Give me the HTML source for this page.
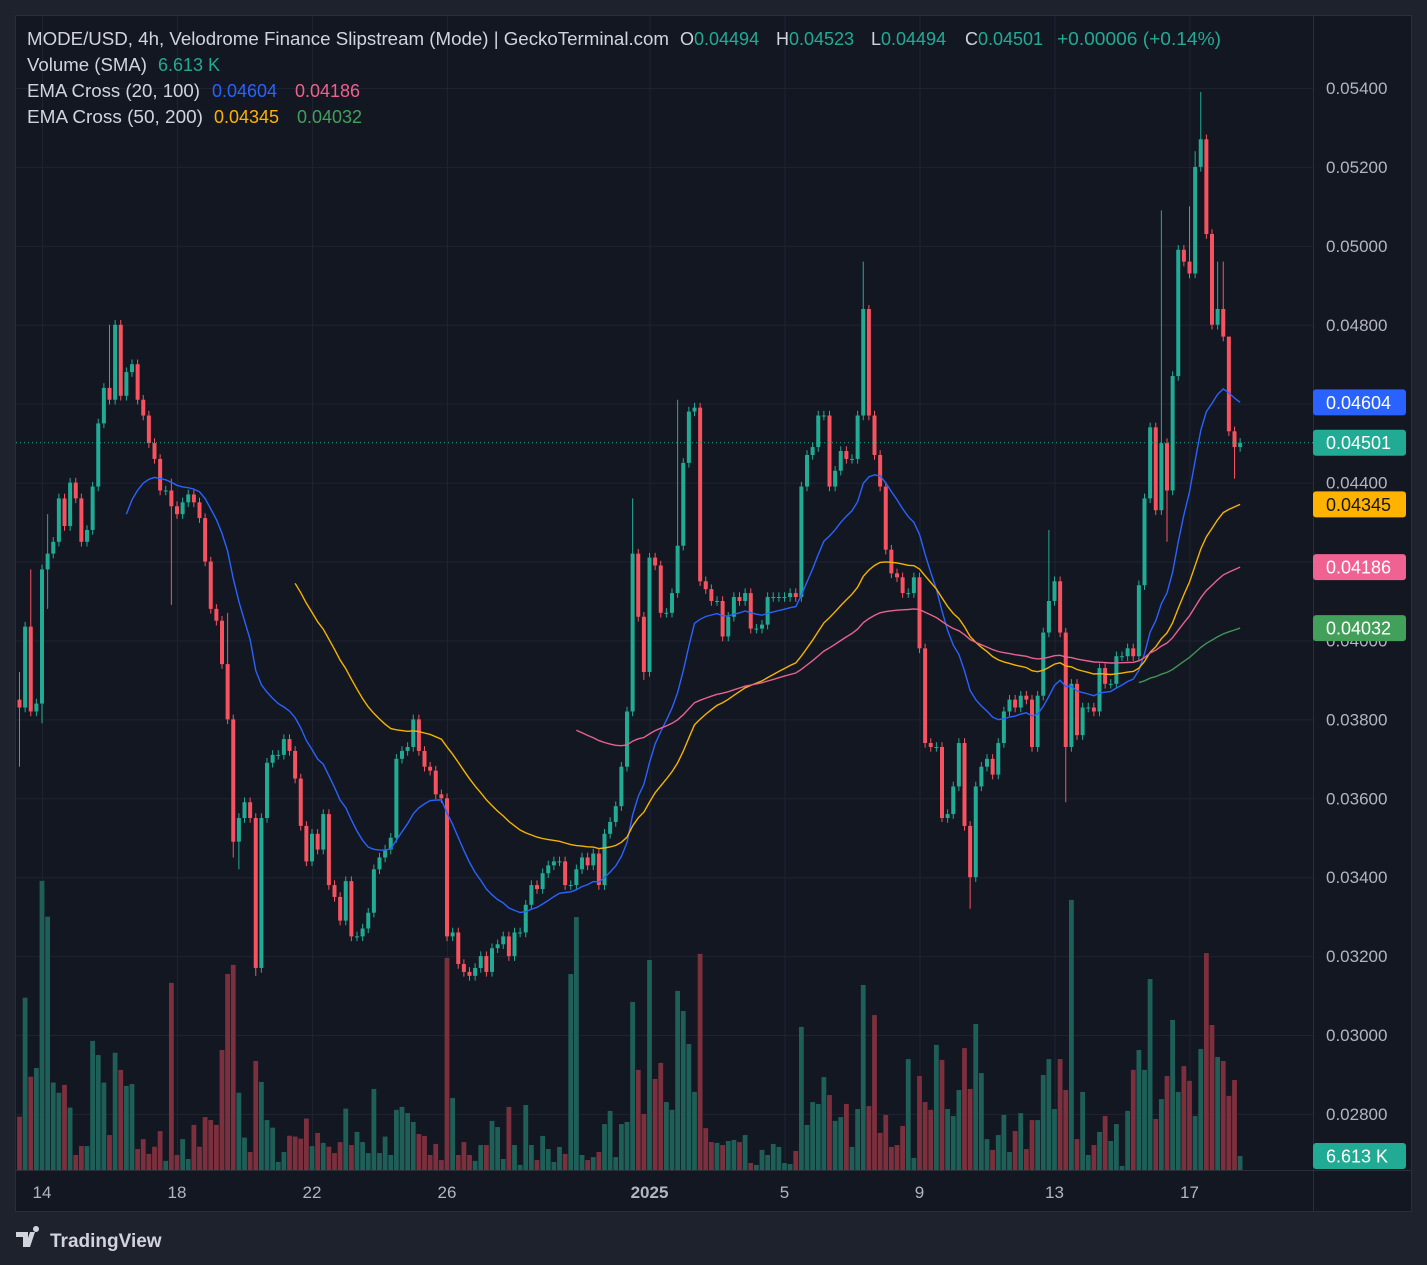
<!DOCTYPE html>
<html><head><meta charset="utf-8"><style>
html,body{margin:0;padding:0;background:#1e222d;}
svg{display:block;font-family:"Liberation Sans",sans-serif;}
</style></head><body>
<svg id="chart" width="1427" height="1265" viewBox="0 0 1427 1265" xmlns="http://www.w3.org/2000/svg">
<rect x="0" y="0" width="1427" height="1265" fill="#1e222d"/>
<rect x="15.5" y="15.5" width="1396" height="1196" fill="#131722" stroke="#2a2e39"/>
<defs><clipPath id="plotclip"><rect x="16" y="16" width="1297" height="1154"/></clipPath></defs>
<g id="grid"></g>
<g id="vol" clip-path="url(#plotclip)"></g>
<g id="candles" clip-path="url(#plotclip)"></g>
<g id="emas" clip-path="url(#plotclip)"></g>
<line x1="1313.5" y1="16" x2="1313.5" y2="1211" stroke="#2a2e39"/>
<line x1="16" y1="1170.5" x2="1411" y2="1170.5" stroke="#2a2e39"/>
<g id="yaxis"></g>
<g id="xaxis"></g>
<g id="labels"></g>
<g font-size="18">
<text x="27" y="45" fill="#d1d4dc" textLength="642" lengthAdjust="spacingAndGlyphs">MODE/USD, 4h, Velodrome Finance Slipstream (Mode) | GeckoTerminal.com</text>
<text x="680" y="45" fill="#d1d4dc">O<tspan fill="#22ab94">0.04494</tspan></text>
<text x="776" y="45" fill="#d1d4dc">H<tspan fill="#22ab94">0.04523</tspan></text>
<text x="871" y="45" fill="#d1d4dc">L<tspan fill="#22ab94">0.04494</tspan></text>
<text x="965" y="45" fill="#d1d4dc">C<tspan fill="#22ab94">0.04501</tspan></text>
<text x="1057" y="45" fill="#22ab94" textLength="164" lengthAdjust="spacingAndGlyphs">+0.00006 (+0.14%)</text>
<text x="27" y="71" fill="#d1d4dc" textLength="120" lengthAdjust="spacingAndGlyphs">Volume (SMA)</text>
<text x="158" y="71" fill="#22ab94">6.613 K</text>
<text x="27" y="97" fill="#d1d4dc" textLength="173" lengthAdjust="spacingAndGlyphs">EMA Cross (20, 100)</text>
<text x="212" y="97" fill="#2962ff">0.04604</text>
<text x="295" y="97" fill="#f0608c">0.04186</text>
<text x="27" y="123" fill="#d1d4dc" textLength="176" lengthAdjust="spacingAndGlyphs">EMA Cross (50, 200)</text>
<text x="214" y="123" fill="#ffb300">0.04345</text>
<text x="297" y="123" fill="#43a05a">0.04032</text>
</g>
<g>
<path d="M16 1232h12v15h-5v-10h-7z M30 1232h5l-5 15h-5z M36 1232a3 3 0 1 1 0.01 0z" fill="#d1d4dc"/>
<text x="50" y="1247" fill="#d1d4dc" font-size="19" font-weight="bold">TradingView</text>
</g>
</svg>
<script>
const closes=[0.0383,
0.04035,0.0382,0.0384,0.0418,0.0422,0.0425,0.0436,0.0429,0.0440,0.0436,0.0425,0.0428,0.0439,0.0455,0.0464,0.0461,0.0480,0.0462,0.0468,0.0470,0.0461,0.0457,0.0450,0.0446,0.0438,0.0438,0.0434,0.0432,0.0435,0.0437,0.0435,0.0431,0.0420,0.0408,0.0405,0.0394,
0.0380,0.0349,0.0355,0.0359,0.0355,0.0317,0.0355,0.0369,0.0371,0.0371,0.0375,0.0372,0.0365,0.0353,0.0344,0.0351,0.0347,0.0356,0.0338,0.0335,0.0329,0.0339,0.0325,0.0325,0.0327,0.0331,0.0342,0.0345,0.0347,0.0350,0.0370,0.0372,0.0373,0.0380,0.0372,0.0368,0.0367,
0.0361,0.0360,0.0325,0.0326,0.0318,0.0316,0.0315,0.0317,0.0320,0.0316,0.0322,0.0323,0.0325,0.0320,0.0326,0.0326,0.0333,0.0338,0.0337,0.0341,0.0343,0.0344,0.0344,0.0338,0.0338,0.0342,0.0345,0.0343,0.0346,0.0338,0.0351,0.0354,0.0358,0.0368,0.0382,0.0422,
0.0406,0.0392,0.0421,0.0419,0.0407,0.0407,0.0412,0.0424,0.0445,0.0458,0.0459,0.0415,0.0413,0.0410,0.0410,0.0401,0.0406,0.0411,0.0410,0.0412,0.0403,0.0403,0.0404,0.0411,0.0411,0.0411,0.0411,0.0412,0.0411,0.0439,0.0447,0.0449,0.0457,0.0457,0.0439,0.0443,0.0448,
0.0446,0.0446,0.0457,0.0484,0.0457,0.0447,0.0439,0.0423,0.0417,0.0416,0.0412,0.0412,0.0416,0.0398,0.0374,0.0373,0.0373,0.0355,0.0356,0.0363,0.0374,0.0353,0.0340,0.0363,0.0368,0.0370,0.0366,0.0374,0.0382,0.0385,0.0383,0.0386,0.0385,0.0373,0.0386,0.0402,
0.0410,0.0415,0.0402,0.0373,0.0389,0.0376,0.0383,0.0383,0.0382,0.0393,0.0389,0.0389,0.0396,0.0396,0.0398,0.0396,0.0414,0.0436,0.0454,0.0433,0.0450,0.0438,0.0467,0.0499,0.0496,0.0493,0.0520,0.0527,0.0503,0.0480,0.0484,0.0477,0.0453,0.0449,0.04501];
const firstOpen=0.0385;
const wickHigh={0:0.0392,2:0.0418,5:0.0432,16:0.0480,27:0.0441,37:0.0407,109:0.0436,117:0.0461,150:0.0496,151:0.0485,183:0.0428,203:0.0509,208:0.0510,209:0.0524,210:0.0539,213:0.0496,214:0.0496,215:0.0477};
const wickLow={0:0.0368,4:0.0379,5:0.0408,27:0.0409,38:0.0345,39:0.0342,42:0.0315,111:0.0390,164:0.0354,169:0.0332,186:0.0359,204:0.0425,216:0.0441};
const volumes=[25.2,81.4,44.1,48.2,136.6,119.7,41.3,36.5,40.2,29.5,7.1,11.3,11.3,61,54.3,41.3,16.5,55.4,47.3,39.7,40.6,9.9,14.6,7.6,11,18.4,4.3,88.4,7.1,14.6,5.2,21.3,11,25,23.6,21.3,56.7,92.6,96.9,36.5,15.3,8.5,51.5,41.6,23.6,20,3.8,8.5,16.2,15.8,14.8,24.3,11.3,17.5,12.8,11,8,13.2,29,11.8,18,13.2,8,38.3,8,15.8,7.1,28.4,29.8,26.9,22.7,17,16.1,7.1,
12.3,4.7,100.2,34,7.1,13.2,7.1,4.3,11.8,11.8,23.2,20.3,5.2,29.8,11.8,2.4,30.7,11.8,4.7,16.1,9.9,3.8,10.9,7.6,92.6,119.5,7.1,4.7,6.1,8.5,21.7,27.9,6.1,21.7,22.7,79.4,47.3,26.5,99.2,43,50.6,32.1,28.4,84.6,75.1,59.5,36.9,102.1,19.8,13.2,12.8,11.8,13.7,14.2,13.2,16.5,3.3,2.4,9.5,7.1,12.3,10.9,3.3,2.8,9,67.6,21.3,32.1,31.2,43.9,35.4,23.2,25,31.2,
10.9,28.8,87.4,30.2,73.2,17.5,26,10.9,11.8,20.8,52.4,5.7,44.4,32.1,28.4,59.1,52,28.8,25.5,37.8,57.6,38.3,69,45.8,14.6,9.5,16.5,26,8.5,18.4,26.9,9.9,23.6,23.6,44.9,52.4,28.8,52.4,37.8,127.6,14.6,36.9,7.1,11.8,18,25.5,13.7,21.7,1.9,27.9,47.3,56.7,47.3,90.2,24.1,33.5,44.4,70.9,36.9,49.1,42.1,25.5,57.2,102.5,68.5,53.4,51.5,35,42.5,6.6];
const priceTicks=[0.028,0.030,0.032,0.034,0.036,0.038,0.040,0.042,0.044,0.046,0.048,0.050,0.052,0.054];
const dateTickDays=[0,4,8,12,18,22,26,30,34];
const dateTickLabels=["14","18","22","26","2025","5","9","13","17"];
const emaPeriods=[20,50,100,200];
const emaColors=["#2962ff","#f5b300","#e8628f","#3f9556"];
const lastLabels=[["0.04604","#2962ff","#fff",0],["0.04345","#ffb300","#131722",1],["0.04186","#f06292","#fff",2],["0.04032","#43a05a","#fff",3]];

const NS="http://www.w3.org/2000/svg";
function el(tag,attrs,parent){const e=document.createElementNS(NS,tag);for(const k in attrs)e.setAttribute(k,attrs[k]);parent.appendChild(e);return e;}
function yP(p){return 88+(0.054-p)/0.002*78.92;}
function xT(d){return 42+d*33.75;}
function xI(i){return xT((i-4)/6);}
function yV(v){return 1170-v/0.4724;}

const grid=document.getElementById('grid');
priceTicks.forEach(p=>{const l=el('line',{x1:16,x2:1313,y1:yP(p)+0.5,y2:yP(p)+0.5,stroke:'#1f2330'},grid);

});
dateTickDays.forEach(d=>{const l=el('line',{x1:xT(d)+0.5,x2:xT(d)+0.5,y1:16,y2:1170,stroke:'#1f2330'},grid);

});

const vg=document.getElementById('vol'),cg=document.getElementById('candles');
let prev=firstOpen;
const up=[];
closes.forEach((c,i)=>{
 const o=prev;prev=c;const isUp=c>=o;up.push(isUp);
 const hi=wickHigh[i]!==undefined?wickHigh[i]:Math.max(o,c)+0.00012;
 const lo=wickLow[i]!==undefined?wickLow[i]:Math.min(o,c)-0.00012;
 const x=xI(i);const col=isUp?'#22ab94':'#f7525f';
 const w=el('line',{x1:x,x2:x,y1:yP(hi),y2:yP(lo),stroke:col,'stroke-width':1},cg);
 
 
 const t=Math.min(yP(o),yP(c));const h=Math.max(1,Math.abs(yP(o)-yP(c)));
 const b=el('rect',{x:x-2,y:t,width:4,height:h,fill:col},cg);
 
 
});
volumes.forEach((v,i)=>{
 const x=xI(i);const isUp=up[i]!==undefined?up[i]:true;
 const r=el('rect',{x:x-2.4,y:yV(v),width:4.8,height:1170-yV(v),fill:isUp?'#1e5f58':'#7c2f3d'},vg);
 
 
});
// EMAs (seeded with SMA)
const eg=document.getElementById('emas');
const emaLast=[];
emaPeriods.forEach((n,k)=>{
 if(closes.length<n)return;
 let s=0;for(let i=0;i<n;i++)s+=closes[i];let e=s/n;const a=2/(n+1);
 const pts=[[xI(n-1),yP(e)]];
 for(let i=n;i<closes.length;i++){e=e+(closes[i]-e)*a;pts.push([xI(i),yP(e)]);}
 emaLast[k]=e;
 const pl=el('polyline',{points:pts.map(p=>p[0].toFixed(1)+','+p[1].toFixed(1)).join(' '),fill:'none',stroke:emaColors[k],'stroke-width':1.4},eg);
 
 
});
// last price line
const lastC=closes[closes.length-1];
const lp=el('line',{x1:16,x2:1313,y1:yP(lastC),y2:yP(lastC),stroke:'#22ab94','stroke-width':1,'stroke-dasharray':'1 3'},eg);



const ya=document.getElementById('yaxis');
priceTicks.forEach(p=>{const t=el('text',{x:1326,y:yP(p)+6,fill:'#b2b5be','font-size':17},ya);t.textContent=p.toFixed(5);

});
const xa=document.getElementById('xaxis');
dateTickDays.forEach((d,k)=>{const t=el('text',{x:xT(d),y:1198,fill:'#b2b5be','font-size':17,'text-anchor':'middle','font-weight':dateTickLabels[k]==='2025'?'bold':'normal'},xa);t.textContent=dateTickLabels[k];

});

const lg=document.getElementById('labels');
function box(y,txt,bg,fg,name){
 const r=el('rect',{x:1313,y:y-13,width:93,height:26,rx:3,fill:bg},lg);
 
 
 const t=el('text',{x:1326,y:y+6.5,fill:fg,'font-size':18},lg);t.textContent=txt;
 
 
}
lastLabels.forEach(L=>{const v=emaLast[L[3]];box(yP(v!==undefined?v:0.04),L[0],L[1],L[2],'ema-last-label');});
box(yP(lastC),lastC.toFixed(5),'#22ab94','#fff','last-price-label');
box(yV(volumes[volumes.length-1]),'6.613 K','#22ab94','#fff','volume-last-label');
</script>
</body></html>
